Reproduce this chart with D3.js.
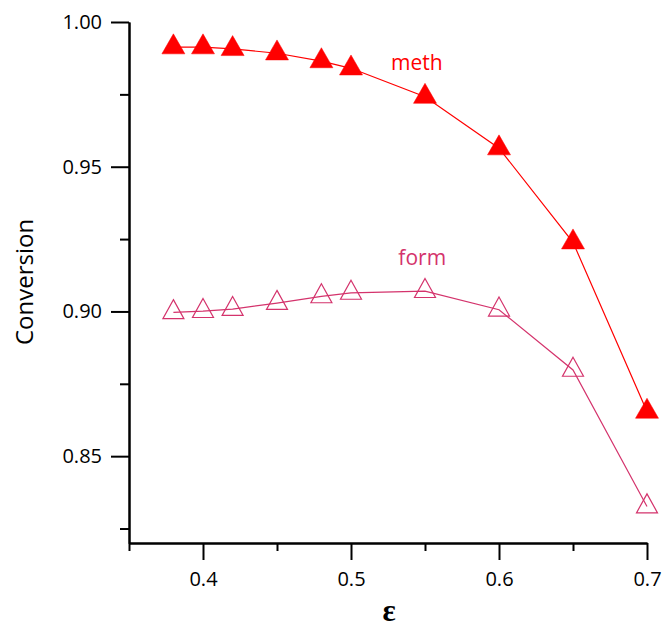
<!DOCTYPE html>
<html>
<head>
<meta charset="utf-8">
<script src="https://cdn.jsdelivr.net/npm/d3@7"></script>
<style>
  body { margin: 0; background: #fff; }
  .axis text { font-family: "Open Sans", sans-serif; font-size: 20px; fill: #000; }
  .axis path, .axis line { stroke: #000; stroke-width: 2; }
</style>
</head>
<body>
<div id="chart"></div>
<script>
// porosity values (x) and conversions
var eps = [0.38, 0.40, 0.42, 0.45, 0.48, 0.50, 0.55, 0.60, 0.65, 0.70];
var meth = [0.9913, 0.9913, 0.9907, 0.9892, 0.9865, 0.9840, 0.9742, 0.9564, 0.9239, 0.8654];
var form = [0.8997, 0.9001, 0.9008, 0.9029, 0.9052, 0.9064, 0.9070, 0.9006, 0.8798, 0.8326];

var xMajor = [0.4, 0.5, 0.6, 0.7];
var xMinor = [0.35, 0.45, 0.55, 0.65];
var yMajor = [0.85, 0.90, 0.95, 1.00];
var yMinor = [0.825, 0.875, 0.925, 0.975];

var W = 664, H = 632;
var margin = {top: 22, right: 17, bottom: 89, left: 129};

var svg = d3.select("#chart")
  .append("svg")
    .attr("width", W)
    .attr("height", H);

var x = d3.scaleLinear()
  .domain([0.35, 0.70])
  .range([margin.left, W - margin.right]);

var y = d3.scaleLinear()
  .domain([0.82, 1.00])
  .range([H - margin.bottom, margin.top]);

// axes: major ticks with labels, then short minor ticks
svg.append("g")
  .attr("class", "axis")
  .attr("transform", "translate(0," + y(0.82) + ")")
  .call(d3.axisBottom(x).tickValues(xMajor).tickSize(17).tickSizeOuter(0)
        .tickPadding(12).tickFormat(d3.format(".1f")));

svg.append("g")
  .attr("class", "axis")
  .attr("transform", "translate(0," + y(0.82) + ")")
  .call(d3.axisBottom(x).tickValues(xMinor).tickSize(8).tickSizeOuter(0).tickFormat(""));

svg.append("g")
  .attr("class", "axis")
  .attr("transform", "translate(" + x(0.35) + ",0)")
  .call(d3.axisLeft(y).tickValues(yMajor).tickSize(18).tickSizeOuter(0)
        .tickPadding(9).tickFormat(d3.format(".2f")));

svg.append("g")
  .attr("class", "axis")
  .attr("transform", "translate(" + x(0.35) + ",0)")
  .call(d3.axisLeft(y).tickValues(yMinor).tickSize(9).tickSizeOuter(0).tickFormat(""));

// axis titles
svg.append("text")
  .attr("x", 389)
  .attr("y", 621)
  .attr("text-anchor", "middle")
  .style("font-family", "'Liberation Serif', serif")
  .style("font-weight", "bold")
  .style("font-size", "31px")
  .text("ε");

svg.append("text")
  .attr("transform", "translate(33," + 282 + ") rotate(-90)")
  .attr("text-anchor", "middle")
  .style("font-family", "'Open Sans', sans-serif")
  .style("font-size", "24px")
  .text("Conversion");

// triangle with its centroid on the point
function tri(w, h) {
  return "M0," + (-2 * h / 3) + "L" + (w / 2) + "," + (h / 3) + "L" + (-w / 2) + "," + (h / 3) + "Z";
}

var series = [
  {name: "meth", values: meth, color: "#ff0000", filled: true, label: [0.527, 0.9834]},
  {name: "form", values: form, color: "#d4336c", filled: false, label: [0.532, 0.9160]}
];

var line = d3.line()
  .x(function(d) { return x(d[0]); })
  .y(function(d) { return y(d[1]); });

series.forEach(function(s) {
  var pts = eps.map(function(e, i) { return [e, s.values[i]]; });

  svg.append("path")
    .datum(pts)
    .attr("d", line)
    .attr("fill", "none")
    .attr("stroke", s.color)
    .attr("stroke-width", 1.2);

  svg.selectAll("path.m-" + s.name)
    .data(pts)
    .enter().append("path")
      .attr("class", "m-" + s.name)
      .attr("transform", function(d) { return "translate(" + x(d[0]) + "," + y(d[1]) + ")"; })
      .attr("d", s.filled ? tri(23, 20) : tri(21, 19))
      .attr("fill", s.filled ? s.color : "none")
      .attr("stroke", s.color)
      .attr("stroke-width", s.filled ? 0.5 : 1.2);

  svg.append("text")
    .attr("x", x(s.label[0]))
    .attr("y", y(s.label[1]))
    .attr("fill", s.color)
    .style("font-family", "'Open Sans', sans-serif")
    .style("font-size", "21px")
    .text(s.name);
});
</script>
</body>
</html>
